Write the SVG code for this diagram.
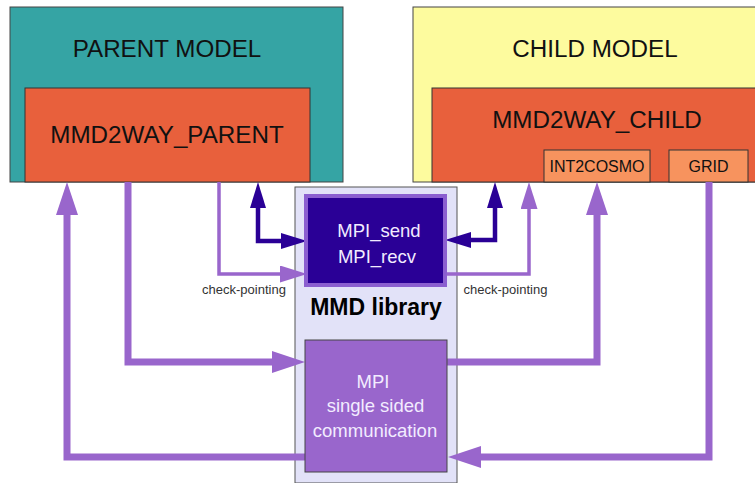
<svg xmlns="http://www.w3.org/2000/svg" width="755" height="483" viewBox="0 0 755 483">
<style>
text{font-family:"Liberation Sans",Arial,sans-serif;text-anchor:middle}
.big{font-size:24.2px;fill:#111}
.small{font-size:16px;fill:#111}
.wt{font-size:18.5px;fill:#F2ECFF}
.cp{font-size:13px;fill:#333}
.thick{fill:none;stroke:#9966CC;stroke-width:7;stroke-linejoin:miter}
.blue{fill:none;stroke:#2A0096;stroke-width:4.5}
.check{fill:none;stroke:#9966CC;stroke-width:3.5}
</style>
<defs>
<marker id="pbig" markerUnits="userSpaceOnUse" markerWidth="34" markerHeight="24" refX="0" refY="11" orient="auto"><path d="M0,0 L33,11 L0,22 z" fill="#9966CC"/></marker>
<marker id="pck" markerUnits="userSpaceOnUse" markerWidth="28" markerHeight="18" refX="0" refY="8.5" orient="auto"><path d="M0,0 L27,8.5 L0,17 z" fill="#9966CC"/></marker>
<marker id="bl" markerUnits="userSpaceOnUse" markerWidth="28" markerHeight="18" refX="0" refY="8" orient="auto-start-reverse"><path d="M0,0 L26,8 L0,16 z" fill="#2A0096"/></marker>
</defs>
<g id="parent-model">
<rect x="10" y="7" width="333" height="175" fill="#35A4A4" stroke="#444" stroke-width="1"/>
<text class="big" x="167" y="57">PARENT MODEL</text>
</g>
<g id="mmd2way-parent">
<rect x="25" y="88" width="285" height="94" fill="#E8603C" stroke="#333" stroke-width="1"/>
<text class="big" x="167" y="143">MMD2WAY_PARENT</text>
</g>
<g id="child-model">
<rect x="413" y="7" width="350" height="175" fill="#FDFB9E" stroke="#444" stroke-width="1"/>
<text class="big" x="595" y="57">CHILD MODEL</text>
</g>
<g id="mmd2way-child">
<rect x="432" y="88" width="330" height="94" fill="#E8603C" stroke="#333" stroke-width="1"/>
<text class="big" x="597" y="128">MMD2WAY_CHILD</text>
</g>
<g id="int2cosmo">
<rect x="544" y="150" width="106" height="32" fill="#F7935E" stroke="#333" stroke-width="1"/>
<text class="small" x="597" y="172">INT2COSMO</text>
</g>
<g id="grid">
<rect x="669" y="150" width="79" height="32" fill="#F7935E" stroke="#333" stroke-width="1"/>
<text class="small" x="708.5" y="172">GRID</text>
</g>
<g id="mmd-library">
<rect x="295" y="187" width="162" height="296" fill="#E2E2F8" stroke="#555" stroke-width="1"/>
<text x="376" y="315" style="font-size:23px;font-weight:bold;fill:#000">MMD library</text>
</g>
<g id="connectors">
<path class="thick" d="M305,457 L67,457 L67,215" marker-end="url(#pbig)"/>
<path class="thick" d="M128,182 L128,362 L272,362" marker-end="url(#pbig)"/>
<path class="check" d="M219,182 L219,274 L280,274" marker-end="url(#pck)"/>
<path class="blue" d="M258,208 L258,241 L281,241" marker-start="url(#bl)" marker-end="url(#bl)"/>
<path class="blue" d="M495,208 L495,240 L471,240" marker-start="url(#bl)" marker-end="url(#bl)"/>
<path class="check" d="M447,274 L529,274 L529,209" marker-end="url(#pck)"/>
<path class="thick" d="M447,362 L597,362 L597,215" marker-end="url(#pbig)"/>
<path class="thick" d="M709,182 L709,457 L481,457" marker-end="url(#pbig)"/>
</g>
<g id="mpi-send-recv">
<rect x="306" y="196" width="139" height="89" fill="#2A0096" stroke="#8B5FD0" stroke-width="4"/>
<text class="wt" x="379" y="237">MPI_send</text>
<text class="wt" x="377" y="263">MPI_recv</text>
</g>
<g id="mpi-single-sided">
<rect x="305" y="340" width="142" height="132" fill="#9966CC" stroke="#444" stroke-width="1"/>
<text class="wt" x="373" y="388">MPI</text>
<text class="wt" x="375.5" y="412">single sided</text>
<text class="wt" x="375" y="437">communication</text>
</g>
<g id="labels">
<text class="cp" x="244" y="294">check-pointing</text>
<text class="cp" x="505.5" y="294">check-pointing</text>
</g>
</svg>
